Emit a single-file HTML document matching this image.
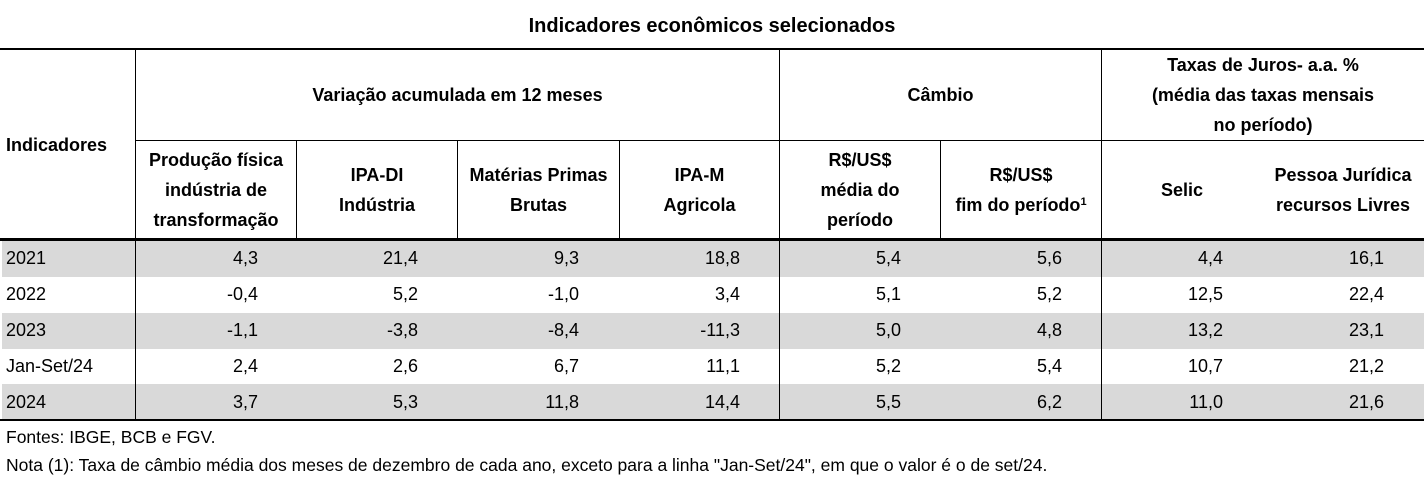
<!DOCTYPE html>
<html><head><meta charset="utf-8">
<style>
body{margin:0;width:1424px;height:479px;background:#fff;font-family:"Liberation Sans",sans-serif;color:#000;position:relative;overflow:hidden}
.a{position:absolute}
.h{position:absolute;display:flex;align-items:center;justify-content:center;text-align:center;font-weight:bold;font-size:18px;line-height:30px}
.g{position:absolute;left:2px;width:1422px;height:36px;background:#d9d9d9}
.v{position:absolute;width:1px;background:#000}
.c{position:absolute;font-size:18px;text-align:right;width:120px;line-height:36px}
.l{position:absolute;left:6px;font-size:18px;line-height:36px}
.f{position:absolute;left:6px;font-size:17.5px;white-space:nowrap}
sup{font-size:11px;line-height:0;vertical-align:6px}
</style></head><body>
<div class="h" style="left:0;width:1424px;top:10px;height:32px;font-size:20px">Indicadores econômicos selecionados</div>

<div class="g" style="top:241px"></div>
<div class="g" style="top:313px"></div>
<div class="g" style="top:384px"></div>

<div class="a" style="left:0;top:48px;width:1424px;height:2px;background:#000"></div>
<div class="a" style="left:135px;top:140px;width:1289px;height:1px;background:#000"></div>
<div class="a" style="left:0;top:238px;width:1424px;height:3px;background:#000"></div>
<div class="a" style="left:0;top:419px;width:1424px;height:2px;background:#000"></div>

<div class="v" style="left:135px;top:50px;height:370px"></div>
<div class="v" style="left:296px;top:141px;height:98px"></div>
<div class="v" style="left:457px;top:141px;height:98px"></div>
<div class="v" style="left:619px;top:141px;height:98px"></div>
<div class="v" style="left:779px;top:50px;height:370px"></div>
<div class="v" style="left:940px;top:141px;height:98px"></div>
<div class="v" style="left:1101px;top:50px;height:370px"></div>

<div class="h" style="left:0;width:130px;top:50px;height:190px;justify-content:flex-start;padding-left:6px">Indicadores</div>
<div class="h" style="left:136px;width:643px;top:50px;height:90px">Variação acumulada em 12 meses</div>
<div class="h" style="left:780px;width:321px;top:50px;height:90px">Câmbio</div>
<div class="h" style="left:1102px;width:322px;top:50px;height:90px">Taxas de Juros- a.a. %<br>(média das taxas mensais<br>no período)</div>

<div class="h" style="left:136px;width:160px;top:141px;height:98px">Produção física<br>indústria de<br>transformação</div>
<div class="h" style="left:297px;width:160px;top:141px;height:98px">IPA-DI<br>Indústria</div>
<div class="h" style="left:458px;width:161px;top:141px;height:98px">Matérias Primas<br>Brutas</div>
<div class="h" style="left:620px;width:159px;top:141px;height:98px">IPA-M<br>Agricola</div>
<div class="h" style="left:780px;width:160px;top:141px;height:98px">R$/US$<br>média do<br>período</div>
<div class="h" style="left:941px;width:160px;top:141px;height:98px"><div>R$/US$<br>fim do período<sup>1</sup></div></div>
<div class="h" style="left:1102px;width:160px;top:141px;height:98px">Selic</div>
<div class="h" style="left:1262px;width:162px;top:141px;height:98px">Pessoa Jurídica<br>recursos Livres</div>

<div id="body"></div>

<div class="f" style="top:427px">Fontes: IBGE, BCB e FGV.</div>
<div class="f" style="top:455px">Nota (1): Taxa de câmbio média dos meses de dezembro de cada ano, exceto para a linha "Jan-Set/24", em que o valor é o de set/24.</div>

<script>
const rowLabels=["2021","2022","2023","Jan-Set/24","2024"];
const producao=["4,3","-0,4","-1,1","2,4","3,7"];
const ipaDi=["21,4","5,2","-3,8","2,6","5,3"];
const materias=["9,3","-1,0","-8,4","6,7","11,8"];
const ipaM=["18,8","3,4","-11,3","11,1","14,4"];
const cambioMedia=["5,4","5,1","5,0","5,2","5,5"];
const cambioFim=["5,6","5,2","4,8","5,4","6,2"];
const selic=["4,4","12,5","13,2","10,7","11,0"];
const pj=["16,1","22,4","23,1","21,2","21,6"];
const cols=[producao,ipaDi,materias,ipaM,cambioMedia,cambioFim,selic,pj];
const rightEdges=[258,418,579,740,901,1062,1223,1384];
const rowTops=[240,276,312,348,384];
const b=document.getElementById('body');
rowLabels.forEach((lab,i)=>{
  const d=document.createElement('div');
  d.className='l';d.style.top=rowTops[i]+'px';d.textContent=lab;
  
  
  b.appendChild(d);
  cols.forEach((col,j)=>{
    const c=document.createElement('div');
    c.className='c';c.style.top=rowTops[i]+'px';c.style.left=(rightEdges[j]-120)+'px';
    c.textContent=col[i];
    
    
    b.appendChild(c);
  });
});
</script>
</body></html>
